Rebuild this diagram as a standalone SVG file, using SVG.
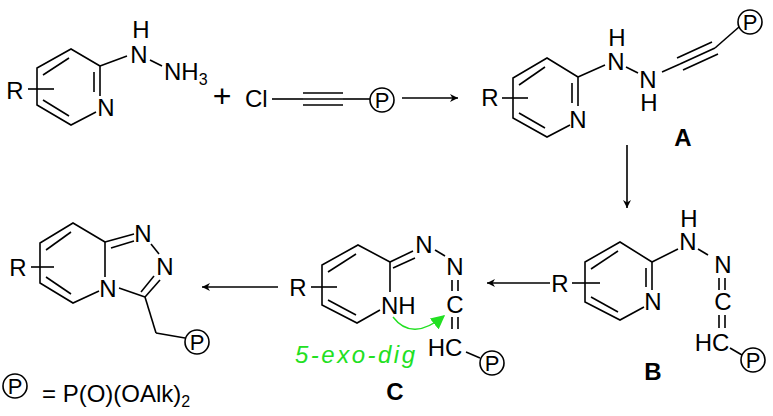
<svg xmlns="http://www.w3.org/2000/svg" width="773" height="416" viewBox="0 0 773 416" font-family="'Liberation Sans', Arial, sans-serif" font-size="24">
<style>
line,polyline,path,circle{stroke:#000;stroke-width:1.6;fill:none}
.c{text-anchor:middle}
.p{text-anchor:middle;font-size:22px}
</style>
<defs>
<marker id="ah" viewBox="0 0 10 10" refX="10" refY="5" markerWidth="10" markerHeight="8" orient="auto" markerUnits="userSpaceOnUse"><path d="M0,0L10,5L0,10L3,5Z" style="fill:#000;stroke:none"/></marker>
<marker id="gh" viewBox="0 0 10 10" refX="9" refY="5" markerWidth="14" markerHeight="14" orient="auto" markerUnits="userSpaceOnUse"><path d="M0,0L10,5L0,10Z" style="fill:#22e022;stroke:none"/></marker>
</defs>

<g id="hydrazinopyridine">
<polyline points="100,66 71,49 37,68 37,105 71,125 96,112"/>
<line x1="100" y1="66" x2="100" y2="96"/>
<line x1="94" y1="72" x2="94" y2="92"/>
<line x1="43" y1="75" x2="69" y2="58"/>
<line x1="43" y1="100" x2="69" y2="116"/>
<line x1="28" y1="89" x2="54" y2="89"/>
<text class="c" x="15" y="99">R</text>
<text class="c" x="106" y="116">N</text>
<line x1="100" y1="66" x2="127" y2="56"/>
<text class="c" x="139" y="63">N</text>
<text class="c" x="141" y="38">H</text>
<line x1="150" y1="60" x2="162" y2="66"/>
<text x="164" y="80">NH<tspan font-size="16" dy="5">3</tspan></text>
</g>

<text class="c" x="222" y="107" font-size="32">+</text>

<g id="chloroalkyne">
<text x="245" y="107">Cl</text>
<line x1="272" y1="99" x2="303" y2="99"/>
<line x1="303" y1="93" x2="343" y2="93"/>
<line x1="303" y1="99" x2="343" y2="99"/>
<line x1="303" y1="105" x2="343" y2="105"/>
<line x1="343" y1="99" x2="370" y2="99"/>
<circle cx="382" cy="100" r="12"/>
<text class="p" x="382" y="108">P</text>
</g>

<g id="A">
<polyline points="578,77 547,58 513,78 513,118 547,137 570,125"/>
<line x1="578" y1="77" x2="578" y2="106"/>
<line x1="572" y1="83" x2="572" y2="103"/>
<line x1="519" y1="85" x2="545" y2="67"/>
<line x1="519" y1="113" x2="545" y2="128"/>
<line x1="502" y1="98" x2="528" y2="98"/>
<text class="c" x="490" y="106">R</text>
<text class="c" x="578" y="128">N</text>
<line x1="578" y1="77" x2="605" y2="65"/>
<text class="c" x="616" y="70">N</text>
<text class="c" x="617" y="46">H</text>
<line x1="626" y1="67" x2="638" y2="73"/>
<text class="c" x="648" y="88">N</text>
<text class="c" x="649" y="111">H</text>
<line x1="662" y1="72" x2="680" y2="64"/>
<line x1="680" y1="64" x2="715" y2="48"/>
<line x1="677" y1="58" x2="712" y2="42"/>
<line x1="683" y1="70" x2="718" y2="54"/>
<line x1="715" y1="48" x2="739" y2="27"/>
<circle cx="750" cy="22" r="12"/>
<text class="p" x="750" y="30">P</text>
<text class="c" font-weight="bold" x="683" y="146">A</text>
</g>

<g id="B">
<polyline points="652,262 620,242 585,262 585,302 620,320 644,307"/>
<line x1="652" y1="262" x2="652" y2="290"/>
<line x1="646" y1="268" x2="646" y2="287"/>
<line x1="591" y1="269" x2="618" y2="251"/>
<line x1="591" y1="297" x2="618" y2="312"/>
<line x1="572" y1="283" x2="600" y2="283"/>
<text class="c" x="560" y="292">R</text>
<text class="c" x="653" y="310">N</text>
<line x1="652" y1="262" x2="678" y2="249"/>
<text class="c" x="688" y="250">N</text>
<text class="c" x="689" y="227">H</text>
<line x1="698" y1="249" x2="708" y2="255"/>
<text class="c" x="723" y="273">N</text>
<line x1="719" y1="278" x2="719" y2="290"/>
<line x1="725" y1="278" x2="725" y2="290"/>
<text class="c" x="723" y="310">C</text>
<line x1="719" y1="315" x2="719" y2="328"/>
<line x1="725" y1="315" x2="725" y2="328"/>
<text class="c" x="712" y="351">HC</text>
<line x1="730" y1="348" x2="742" y2="355"/>
<circle cx="753" cy="360" r="12"/>
<text class="p" x="753" y="368">P</text>
<text class="c" font-weight="bold" x="653" y="380">B</text>
</g>

<g id="C">
<polyline points="390,262 358,245 322,265 322,305 357,323 380,310"/>
<line x1="390" y1="262" x2="390" y2="292"/>
<line x1="328" y1="272" x2="356" y2="254"/>
<line x1="328" y1="300" x2="356" y2="315"/>
<line x1="311" y1="287" x2="337" y2="287"/>
<text class="c" x="298" y="296">R</text>
<text x="381" y="314">NH</text>
<line x1="390" y1="262" x2="413" y2="251"/>
<line x1="393" y1="268" x2="415" y2="258"/>
<text class="c" x="424" y="253">N</text>
<line x1="435" y1="250" x2="445" y2="256"/>
<text class="c" x="455" y="275">N</text>
<line x1="452" y1="280" x2="452" y2="291"/>
<line x1="458" y1="280" x2="458" y2="291"/>
<text class="c" x="455" y="313">C</text>
<line x1="452" y1="317" x2="452" y2="329"/>
<line x1="458" y1="317" x2="458" y2="329"/>
<text class="c" x="445" y="356">HC</text>
<line x1="466" y1="352" x2="480" y2="358"/>
<circle cx="492" cy="363" r="12"/>
<text class="p" x="492" y="371">P</text>
<path d="M393,317 Q412,342 444,316" style="stroke:#22e022;stroke-width:1.4" marker-end="url(#gh)"/>
<text fill="#22e022" x="295" y="363" font-style="italic" textLength="120">5-exo-dig</text>
<text class="c" font-weight="bold" x="395" y="400">C</text>
</g>

<g id="product">
<polyline points="105,242 73,223 40,243 40,283 73,303 99,291"/>
<line x1="105" y1="242" x2="105" y2="277"/>
<line x1="46" y1="250" x2="71" y2="232"/>
<line x1="46" y1="277" x2="71" y2="294"/>
<line x1="31" y1="267" x2="54" y2="267"/>
<text class="c" x="18" y="276">R</text>
<text class="c" x="108" y="297">N</text>
<line x1="105" y1="242" x2="134" y2="234"/>
<line x1="111" y1="248" x2="134" y2="241"/>
<text class="c" x="143" y="242">N</text>
<line x1="151" y1="244" x2="159" y2="254"/>
<text class="c" x="165" y="275">N</text>
<line x1="160" y1="280" x2="145" y2="297"/>
<line x1="154" y1="276" x2="141" y2="292"/>
<line x1="119" y1="288" x2="145" y2="297"/>
<line x1="145" y1="297" x2="156" y2="333"/>
<line x1="156" y1="333" x2="185" y2="338"/>
<circle cx="197" cy="342" r="12"/>
<text class="p" x="197" y="350">P</text>
</g>

<g id="legend">
<circle cx="15" cy="386" r="12"/>
<text class="p" x="15" y="394">P</text>
<text x="42" y="402">= P(O)(OAlk)<tspan font-size="16" dy="5">2</tspan></text>
</g>

<g id="connectors">
<line x1="402" y1="98" x2="458" y2="98" marker-end="url(#ah)"/>
<line x1="627" y1="145" x2="627" y2="208" marker-end="url(#ah)"/>
<line x1="550" y1="283" x2="487" y2="283" marker-end="url(#ah)"/>
<line x1="278" y1="287" x2="202" y2="287" marker-end="url(#ah)"/>
</g>
</svg>
